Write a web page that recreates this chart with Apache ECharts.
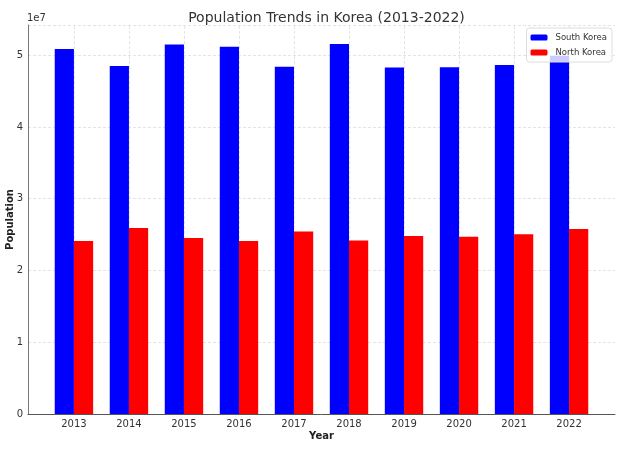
<!DOCTYPE html>
<html>
<head>
<meta charset="utf-8">
<script src="https://cdn.jsdelivr.net/npm/echarts@6/dist/echarts.min.js"></script>
<style>html,body{margin:0;padding:0;background:#fff}#c{width:636px;height:452px}</style>
</head>
<body>
<div id="c"></div>
<script>
const years = ['2013','2014','2015','2016','2017','2018','2019','2020','2021','2022'];
const southKorea = [50840000, 48470000, 51500000, 51160000, 48370000, 51570000, 48290000, 48330000, 48610000, 49900000];
const northKorea = [24100000, 25900000, 24510000, 24100000, 25440000, 24190000, 24790000, 24700000, 25030000, 25770000];
const yTicks = [0, 10000000, 20000000, 30000000, 40000000, 50000000];

const idx = years.map((_, i) => i);
const font = 'DejaVu Sans';
const chart = echarts.init(document.getElementById('c'), null, {renderer: 'canvas'});
chart.setOption({
  animation: false,
  backgroundColor: '#fff',
  title: {
    text: 'Population Trends in Korea (2013-2022)',
    left: 321.5, textAlign: 'center', top: 6,
    textStyle: {fontFamily: font, fontSize: 14, fontWeight: 'normal', color: '#333'}
  },
  legend: {
    orient: 'vertical', right: 24, top: 28,
    itemWidth: 17, itemHeight: 6, itemGap: 6,
    padding: [5, 5, 5, 4],
    backgroundColor: 'rgba(255,255,255,0.8)', borderColor: '#ddd', borderWidth: 1, borderRadius: 3,
    textStyle: {fontFamily: font, fontSize: 8.5, color: '#333', padding: [0, 0, 0, 3]},
    data: ['South Korea', 'North Korea']
  },
  graphic: [{
    type: 'text', left: 27, top: 13,
    style: {text: '1e7', font: '10px "DejaVu Sans"', fill: '#333'}
  }],
  grid: {left: 28, right: 21, top: 25, bottom: 38, containLabel: false, outerBoundsMode: 'none'},
  xAxis: {
    type: 'value', min: -0.835, max: 9.835,
    name: 'Year', nameLocation: 'middle', nameGap: 17, nameMoveOverlap: false,
    nameTextStyle: {fontFamily: font, fontSize: 10, fontWeight: 'bold', color: '#222'},
    axisLine: {show: true, onZero: false, lineStyle: {color: '#555', width: 1}},
    axisTick: {show: false},
    axisLabel: {customValues: idx, formatter: v => years[Math.round(v)], fontFamily: font, fontSize: 10, color: '#333', margin: 5},
    splitLine: {show: false}
  },
  yAxis: {
    type: 'value', min: 0, max: 54200000, interval: 10000000,
    name: 'Population', nameLocation: 'middle', nameGap: 13, nameRotate: 90, nameMoveOverlap: false,
    nameTextStyle: {fontFamily: font, fontSize: 10, fontWeight: 'bold', color: '#222'},
    axisLine: {show: true, onZero: false, lineStyle: {color: '#777', width: 1}},
    axisTick: {show: false},
    axisLabel: {customValues: yTicks, formatter: v => String(Math.round(v / 1e7)), fontFamily: font, fontSize: 10, color: '#333', margin: 5},
    splitLine: {show: true, lineStyle: {color: '#ddd', width: 0.8, type: [3, 2]}}
  },
  series: [
    {
      type: 'line', data: [], z: 1, silent: true,
      markLine: {
        z: 1, silent: true, symbol: 'none', label: {show: false},
        lineStyle: {color: '#ddd', width: 0.8, type: [3, 2]},
        data: idx.map(i => ({xAxis: i}))
      }
    },
    {
      name: 'South Korea', type: 'bar', z: 2, barWidth: 19.2, barGap: '0%',
      itemStyle: {color: '#0000ff'},
      data: southKorea.map((v, i) => [i, v])
    },
    {
      name: 'North Korea', type: 'bar', z: 2, barWidth: 19.2, barGap: '0%',
      itemStyle: {color: '#ff0000'},
      data: northKorea.map((v, i) => [i, v])
    }
  ]
});
</script>
</body>
</html>
